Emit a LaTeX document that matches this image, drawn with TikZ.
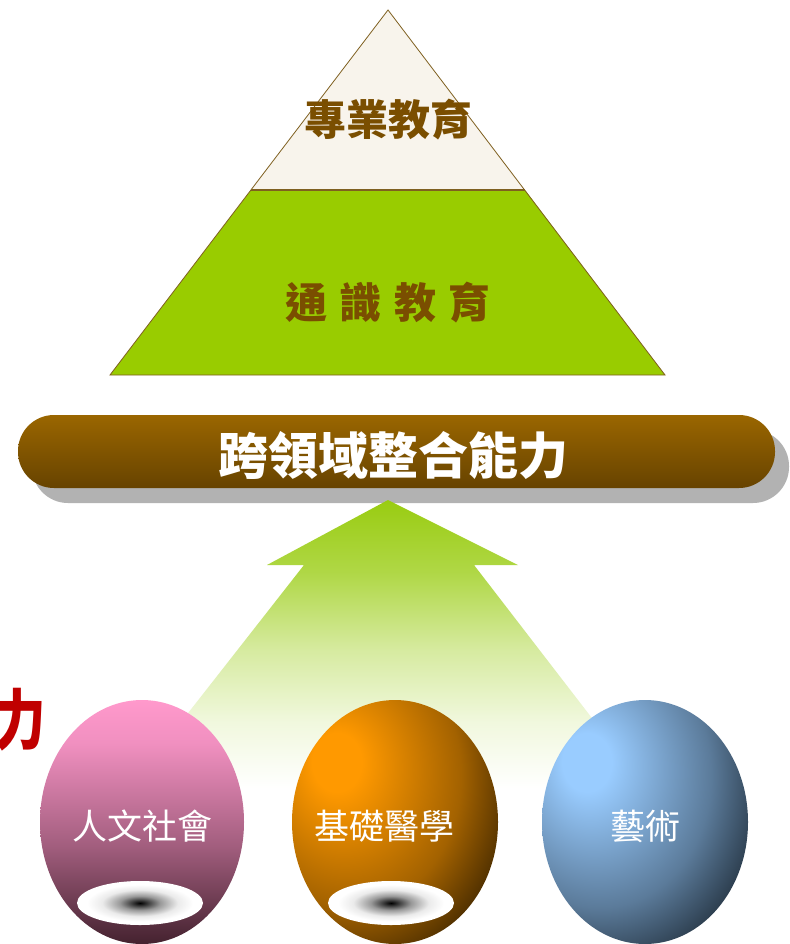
\documentclass[tikz,border=0pt]{standalone}
\usepackage{fontspec}
\newfontfamily\cjk{Noto Sans CJK TC}
\usetikzlibrary{shadings}
\definecolor{cream}{HTML}{F8F4EC}
\definecolor{pgreen}{HTML}{99CC00}
\definecolor{pline}{HTML}{7F6020}
\definecolor{ptext}{HTML}{7A4E00}
\definecolor{bandtop}{HTML}{9A6600}
\definecolor{bandbot}{HTML}{674300}
\definecolor{shadowgray}{HTML}{B2B2B2}
\definecolor{arrowgreen}{HTML}{99CC11}
\definecolor{redtext}{HTML}{C00000}
\definecolor{pinktop}{HTML}{FF99CC}
\definecolor{pinkbot}{HTML}{44222F}
\definecolor{orlight}{HTML}{FF9900}
\definecolor{ordark}{HTML}{3F2600}
\definecolor{bllight}{HTML}{99CCFF}
\definecolor{bldark}{HTML}{22303D}
% path bounding box maps to the 25bp..75bp part of these 100bp shadings
\pgfdeclareverticalshading{arrowshade}{100bp}{color(0bp)=(white); color(27bp)=(white); color(38bp)=(arrowgreen!14); color(50bp)=(arrowgreen!40); color(63bp)=(arrowgreen!78); color(75bp)=(arrowgreen); color(100bp)=(arrowgreen)}
\pgfdeclareverticalshading{pinkshade}{100bp}{color(0bp)=(pinkbot); color(25bp)=(pinkbot); color(45bp)=(pinktop!50!pinkbot); color(66bp)=(pinktop!92!pinkbot); color(75bp)=(pinktop); color(100bp)=(pinktop)}
\pgfdeclareradialshading{orshade}{\pgfpoint{-15bp}{13bp}}{color(0bp)=(orlight); color(6bp)=(orlight); color(27bp)=(orlight!52!ordark); color(40bp)=(ordark); color(100bp)=(ordark)}
\pgfdeclareradialshading{blshade}{\pgfpoint{-15bp}{13bp}}{color(0bp)=(bllight); color(6bp)=(bllight); color(27bp)=(bllight!48!bldark); color(40bp)=(bldark); color(100bp)=(bldark)}
\pgfdeclareradialshading{holeshade}{\pgfpoint{0bp}{0bp}}{color(0bp)=(black); color(2bp)=(black!85); color(8bp)=(black!40); color(15bp)=(black!8); color(21bp)=(white); color(50bp)=(white)}
\tikzset{
  toptext/.style={font=\cjk\bfseries\fontsize{42}{44}\selectfont, text=ptext},
  bandtext/.style={font=\cjk\bfseries\fontsize{50}{52}\selectfont, text=white},
  eggtext/.style={font=\cjk\fontsize{35}{37}\selectfont, text=white},
  hole/.style={shading=holeshade},
}
\begin{document}
\begin{tikzpicture}[x=1pt,y=-1pt]
\useasboundingbox (0,0) rectangle (789,944);
\fill[white] (0,0) rectangle (789,944);
% pyramid
\coordinate (apex) at (388,10);
\coordinate (bl) at (110,375);
\coordinate (br) at (665,375);
\coordinate (ml) at (251,190);
\coordinate (mr) at (525,190);
\fill[cream] (apex) -- (mr) -- (ml) -- cycle;
\fill[pgreen] (ml) -- (mr) -- (br) -- (bl) -- cycle;
\draw[pline, line width=0.8pt] (apex) -- (br) -- (bl) -- cycle;
\draw[pline, line width=2pt] (ml) -- (mr);
\node[toptext] (spec) at (388,120) {專業教育};
\node[toptext] (gen) at (388,303) {通\hspace{0.3em}識\hspace{0.3em}教\hspace{0.3em}育};
% band
\fill[shadowgray, rounded corners=36pt] (32,430) rectangle (789,503);
\shade[top color=bandtop, bottom color=bandbot, rounded corners=36pt] (18,415) rectangle (775,488);
\node[bandtext] (band) at (393,455) {跨領域整合能力};
% arrow
\shade[shading=arrowshade] (388,500) -- (518,565) -- (474,565) -- (655,800) -- (120,800) -- (304,565) -- (267,565) -- cycle;
% red text (cut by the left edge, as in the reference)
\node[font=\cjk\bfseries\fontsize{66}{68}\selectfont, text=redtext, anchor=east, inner sep=0pt, xscale=0.78] (li) at (46,720) {力};
% eggs
\shade[shading=pinkshade] (142,822) ellipse [x radius=102, y radius=122];
\shade[shading=orshade] (395,822) ellipse [x radius=103, y radius=122];
\shade[shading=blshade] (645,822) ellipse [x radius=103, y radius=122];
\shade[hole] (140,903) ellipse [x radius=63, y radius=22];
\shade[hole] (391,903) ellipse [x radius=63, y radius=22];
\node[eggtext] (e1) at (142,826) {人文社會};
\node[eggtext] (e2) at (384,826) {基礎醫學};
\node[eggtext] (e3) at (645,826) {藝術};
\end{tikzpicture}
\end{document}
